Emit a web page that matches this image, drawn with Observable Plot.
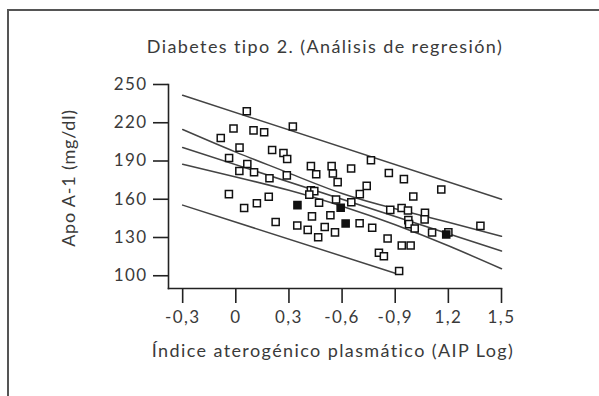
<!DOCTYPE html>
<html>
<head>
<meta charset="utf-8">
<script src="https://cdn.jsdelivr.net/npm/d3@7"></script>
<script src="https://cdn.jsdelivr.net/npm/@observablehq/plot@0.6"></script>
<style>
  html, body { margin: 0; padding: 0; background: #fff; }
  #wrap { position: relative; width: 599px; height: 396px; overflow: hidden; font-family: Lato, "Open Sans", sans-serif; color: #3a3a3a; }
  #border { position: absolute; left: 7px; top: 9px; width: 620px; height: 420px; border-left: 2px solid #555; border-top: 2px solid #555; }
  #title { position: absolute; left: 0; width: 650px; top: 35px; text-align: center; font-size: 18px; letter-spacing: 1.4px; }
  #xlabel { position: absolute; left: 0; width: 666px; top: 339px; text-align: center; font-size: 18px; letter-spacing: 1.4px; }
  #ylabel { position: absolute; left: 68px; top: 178px; transform: translate(-50%, -50%) rotate(-90deg); white-space: nowrap; font-size: 18px; letter-spacing: 0.8px; }
  #chart { position: absolute; left: 0; top: 0; }
</style>
</head>
<body>
<div id="wrap">
  <div id="border"></div>
  <div id="title">Diabetes tipo 2. (Análisis de regresión)</div>
  <div id="ylabel">Apo A-1 (mg/dl)</div>
  <div id="xlabel">Índice aterogénico plasmático (AIP Log)</div>
  <div id="chart"></div>
</div>
<script>
// Tick values and labels (as printed in the original figure)
const xTicks = [-0.3, 0, 0.3, 0.6, 0.9, 1.2, 1.5];
const xTickLabels = ["-0,3", "0", "0,3", "-0,6", "-0,9", "1,2", "1,5"];
const yTicks = [100, 130, 160, 190, 220, 250];

// Observations: AIP (log) and Apo A-1 (mg/dl) — open squares
const aipOpen = [0.062, 0.322, -0.013, 0.10, 0.16, -0.085, 0.021, -0.038, 0.205, 0.269,
  0.29, 0.065, 0.02, 0.103, 0.19, 0.288, -0.039, 0.047, 0.119, 0.186,
  0.225, 0.424, 0.454, 0.541, 0.548, 0.575, 0.651, 0.763, 0.864, 0.949,
  0.739, 0.70, 0.424, 0.443, 0.415, 0.47, 0.566, 0.652, 0.43, 0.534,
  0.347, 0.406, 0.465, 0.502, 0.56, 0.699, 0.770, 0.857, 0.808, 0.836,
  0.922, 0.872, 0.936, 0.972, 1.002, 0.974, 0.978, 1.01, 1.068, 1.066,
  1.108, 1.20, 1.16, 1.381, 0.937, 0.987];
const apoOpen = [229.0, 217.0, 215.5, 214.0, 212.6, 208.0, 200.5, 192.4, 198.6, 196.3,
  191.6, 187.7, 182.2, 181.2, 176.5, 178.7, 164.0, 153.2, 156.9, 162.0,
  142.1, 186.0, 179.6, 186.0, 180.2, 173.4, 184.1, 190.6, 180.6, 175.8,
  170.5, 164.0, 167.0, 166.4, 163.6, 157.2, 159.8, 157.6, 146.6, 147.4,
  139.4, 136.0, 130.2, 138.2, 134.0, 141.2, 137.6, 129.2, 118.0, 115.3,
  103.7, 151.7, 153.2, 151.2, 162.1, 143.6, 140.5, 137.0, 149.4, 144.2,
  133.9, 134.0, 167.7, 139.1, 123.7, 123.7];

// Filled squares
const aipFilled = [0.348, 0.592, 0.62, 1.188];
const apoFilled = [155.4, 153.3, 141.0, 132.4];

// Regression line and bands
const fitX = [-0.3, 1.5];
const fitY = [200.6, 119.4];
const ciX = [-0.3, 0, 0.3, 0.6, 0.9, 1.2, 1.5];
const ciUpper = [214.7, 197.0, 180.5, 164.5, 152.5, 142.0, 131.0];
const ciLower = [187.5, 177.5, 167.0, 154.5, 140.0, 123.5, 105.5];
const predUpperX = [-0.3, 1.5];
const predUpperY = [241.5, 160.0];
const predLowerX = [-0.3, 0.9];
const predLowerY = [155.4, 102.0];

const toRows = (xs, ys) => xs.map((x, i) => ({x, y: ys[i]}));
const open = toRows(aipOpen, apoOpen);
const filled = toRows(aipFilled, apoFilled);
const fit = toRows(fitX, fitY);
const ciU = toRows(ciX, ciUpper);
const ciL = toRows(ciX, ciLower);
const pU = toRows(predUpperX, predUpperY);
const pL = toRows(predLowerX, predLowerY);
const xLabelMap = new Map(xTicks.map((v, i) => [v, xTickLabels[i]]));

const lineStyle = {x: "x", y: "y", stroke: "#444", strokeWidth: 1.5};

const chart = Plot.plot({
  width: 599,
  height: 396,
  marginLeft: 168,
  marginRight: 98,
  marginTop: 84,
  marginBottom: 108,
  style: {fontFamily: "Lato, 'Open Sans', sans-serif", fontSize: "17px", color: "#3a3a3a", background: "transparent", letterSpacing: "1.4px"},
  x: {domain: [-0.38, 1.5]},
  y: {domain: [90, 250]},
  marks: [
    Plot.frame({anchor: "left", stroke: "#222", strokeWidth: 1.6}),
    Plot.frame({anchor: "bottom", stroke: "#222", strokeWidth: 1.6}),
    Plot.axisY(yTicks, {tickSize: 15, tickPadding: 6, label: null, stroke: "#222", strokeWidth: 1.6}),
    Plot.axisX(xTicks, {tickSize: 15, tickPadding: 7, label: null, stroke: "#222", strokeWidth: 1.6, tickFormat: d => xLabelMap.get(d)}),
    Plot.line(pU, lineStyle),
    Plot.line(pL, lineStyle),
    Plot.line(fit, lineStyle),
    Plot.line(ciU, {...lineStyle, curve: "natural"}),
    Plot.line(ciL, {...lineStyle, curve: "natural"}),
    Plot.dot(open, {x: "x", y: "y", symbol: "square", r: 4, fill: "white", stroke: "#111", strokeWidth: 1.5}),
    Plot.dot(filled, {x: "x", y: "y", symbol: "square", r: 4, fill: "#111", stroke: "#111", strokeWidth: 1.5})
  ]
});
document.getElementById("chart").appendChild(chart);
</script>
</body>
</html>
